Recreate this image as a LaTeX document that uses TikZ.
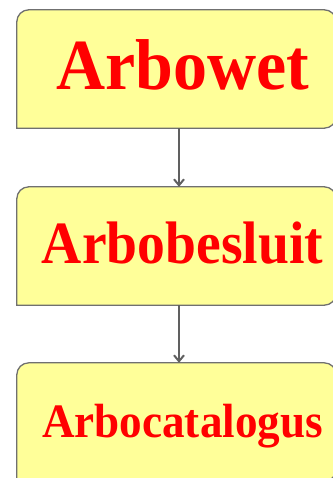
\documentclass[tikz,border=0pt]{standalone}
\usepackage{fontspec}
\usepackage{graphicx}
\setmainfont{Liberation Serif}
\usetikzlibrary{arrows.meta,backgrounds}
\definecolor{boxfill}{HTML}{FFFF99}
\definecolor{boxline}{HTML}{707070}
\definecolor{arrowc}{HTML}{606060}
\tikzset{
  box/.style={rectangle, draw=none, inner sep=0pt, minimum width=319pt, minimum height=118pt},
  lbl/.style={text=red, anchor=base, inner sep=0pt},
  conn/.style={draw=arrowc, line width=2pt, -{Straight Barb[length=6pt,width=10pt,line width=2pt]}},
  boxshape/.style={fill=boxfill, draw=boxline, line width=1.3pt}
}
\newcommand{\snipbox}[1]{%
  \path[boxshape] (#1.south west) -- ([yshift=-12pt]#1.north west)
    arc[start angle=180,end angle=90,radius=12pt] -- ([xshift=-12pt]#1.north east)
    arc[start angle=90,end angle=0,radius=12pt] -- ([yshift=12pt]#1.south east)
    arc[start angle=0,end angle=-90,radius=12pt] -- cycle;}
\newcommand{\redtext}[3]{\scalebox{#2}[1]{\fontsize{#1}{#1}\selectfont\bfseries #3}}
\begin{document}
\begin{tikzpicture}[x=1pt,y=1pt]
\useasboundingbox (0,0) rectangle (332,-478);
\node[box] (b1) at (176.5,-69) {};
\node[box] (b2) at (176.5,-246) {};
\node[box] (b3) at (176.5,-422) {};
\begin{scope}[on background layer]
\snipbox{b1}
\snipbox{b2}
\snipbox{b3}
\end{scope}
\node[lbl] (t1) at (183,-90) {\redtext{72}{0.944}{Arbowet}};
\node[lbl] (t2) at (182.5,-263) {\redtext{60}{0.927}{Arbobesluit}};
\node[lbl] (t3) at (182.5,-437) {\redtext{48}{0.94}{Arbocatalogus}};
\draw[conn] ([xshift=2.5pt]b1.south) -- ([xshift=2.5pt]b2.north);
\draw[conn] ([xshift=2.5pt]b2.south) -- ([xshift=2.5pt]b3.north);
\end{tikzpicture}
\end{document}
